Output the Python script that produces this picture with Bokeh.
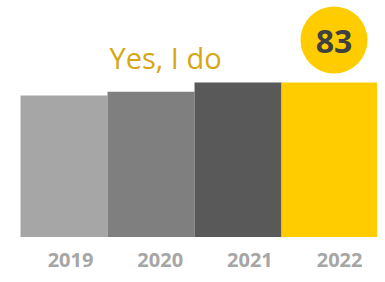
from bokeh.plotting import figure
from bokeh.models import Range1d, ColumnDataSource, Label
from bokeh.core.properties import value
from bokeh.embed import file_html
from bokeh.resources import INLINE

# ---- data ----
years = ["2019", "2020", "2021", "2022"]
values = [76, 78, 83, 83]
bar_colors = ["#A6A6A6", "#7F7F7F", "#595959", "#FFCC00"]
series_label = "Yes, I do"
highlight_index = 3  # 2022

# ---- figure ----
W, H = 377, 274
p = figure(width=W, height=H, output_backend="svg", toolbar_location=None,
           x_range=Range1d(0.270, 4.603), y_range=Range1d(-20.15, 127.08),
           min_border=0, x_axis_location=None, y_axis_location=None)
p.outline_line_color = None
p.grid.visible = False
p.background_fill_color = "white"
p.border_fill_color = "white"
p.extra_x_ranges = {"labels": Range1d(0.2196, 4.4226)}

idx = list(range(1, len(years) + 1))
left = [i - 0.5 for i in idx]
right = [i + 0.5 for i in idx]
right[highlight_index] = idx[highlight_index] + 0.9  # highlighted bar runs to the edge

src = ColumnDataSource(dict(left=left, right=right, top=values,
                            bottom=[0] * len(values), color=bar_colors))
p.quad(left="left", right="right", top="top", bottom="bottom",
       fill_color="color", line_color=None, source=src)

# year labels
lab_src = ColumnDataSource(dict(x=idx, y=[-12.3] * len(years), t=years))
p.text(x="x", y="y", text="t", source=lab_src, x_range_name="labels",
       text_align="center", text_baseline="alphabetic",
       text_font=value("Open Sans"), text_font_style="bold",
       text_font_size="20px", text_color="#A6A6A6")

# highlight bubble
hx = idx[highlight_index] + 0.103
hv = values[highlight_index]
p.scatter(x=[hx], y=[hv + 22.86], size=67, marker="circle",
          fill_color="#FFCC00", line_color=None)
p.text(x=[hx], y=[hv + 22.0], text=[str(hv)], text_align="center",
       text_baseline="alphabetic", text_font=value("Open Sans"),
       text_font_style="bold", text_font_size="32px", text_color="#404040")

# series label
p.add_layout(Label(x=165, y=216.7, x_units="screen", y_units="screen",
                   text=series_label, text_align="center",
                   text_baseline="alphabetic", text_font="Open Sans",
                   text_font_size="29px", text_color="#D6A615"))

open("out.html", "w").write(file_html(p, INLINE))
